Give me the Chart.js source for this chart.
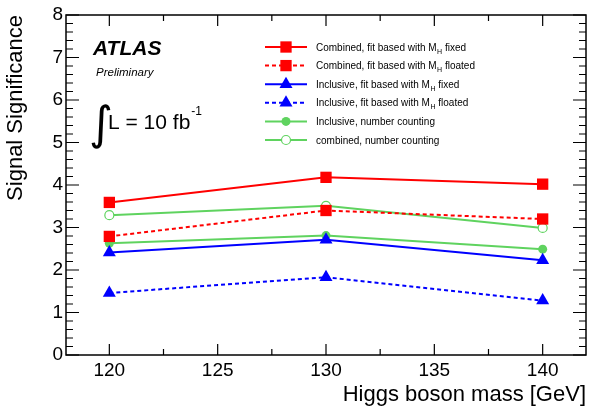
<!DOCTYPE html>
<html>
<head>
<meta charset="utf-8">
<script src="https://cdn.jsdelivr.net/npm/chart.js@4"></script>
<style>
html,body{margin:0;padding:0;background:#fff;}
canvas{display:block;}
</style>
</head>
<body>
<canvas id="c" width="589" height="406"></canvas>
<script>
// ---- data ----
const masses = [120, 130, 140];
const combinedFixed = [3.59, 4.18, 4.02];
const combinedFloated = [2.79, 3.40, 3.20];
const inclusiveFixed = [2.41, 2.71, 2.23];
const inclusiveFloated = [1.46, 1.83, 1.28];
const inclusiveCounting = [2.63, 2.81, 2.49];
const combinedCounting = [3.29, 3.51, 2.99];
const xTickValues = [120, 125, 130, 135, 140];
const yTickValues = [0, 1, 2, 3, 4, 5, 6, 7, 8];
const legendLabels = [
  ['Combined, fit based with M', 'H', ' fixed'],
  ['Combined, fit based with M', 'H', ' floated'],
  ['Inclusive, fit based with M', 'H', ' fixed'],
  ['Inclusive, fit based with M', 'H', ' floated'],
  ['Inclusive, number counting', '', ''],
  ['combined, number counting', '', '']
];

const RED = '#ff0000', BLUE = '#0000ff', GREEN = '#5fd35f';
const FONT = "'Liberation Sans', Arial, Helvetica, sans-serif";

function pts(vals){ return masses.map((m,i)=>({x:m, y:vals[i]})); }

const datasets = [
  {label:'cf', data:pts(combinedFixed), borderColor:RED, backgroundColor:RED, borderWidth:2, pointStyle:'rect', pointRadius:8, pointBorderWidth:0},
  {label:'cfl', data:pts(combinedFloated), borderColor:RED, backgroundColor:RED, borderWidth:2, borderDash:[4,3], pointStyle:'rect', pointRadius:8, pointBorderWidth:0},
  {label:'if', data:pts(inclusiveFixed), borderColor:BLUE, backgroundColor:BLUE, borderWidth:2, pointStyle:'triangle', pointRadius:7.5, pointBorderWidth:0},
  {label:'ifl', data:pts(inclusiveFloated), borderColor:BLUE, backgroundColor:BLUE, borderWidth:2, borderDash:[4,3], pointStyle:'triangle', pointRadius:7.5, pointBorderWidth:0},
  {label:'ic', data:pts(inclusiveCounting), borderColor:GREEN, backgroundColor:GREEN, borderWidth:2, pointStyle:'circle', pointRadius:4.5, pointBorderWidth:0},
  {label:'cc', data:pts(combinedCounting), borderColor:GREEN, backgroundColor:'#ffffff', borderWidth:2, pointStyle:'circle', pointRadius:4.5, pointBorderWidth:1.2, pointBorderColor:GREEN}
];

function drawMarker(ctx, ds, x, y){
  ctx.save();
  ctx.setLineDash([]);
  ctx.fillStyle = ds.backgroundColor;
  ctx.strokeStyle = ds.pointBorderColor || ds.borderColor;
  ctx.lineWidth = ds.pointBorderWidth;
  const r = ds.pointRadius;
  ctx.beginPath();
  if (ds.pointStyle === 'rect') {
    const s = Math.SQRT1_2 * r;
    ctx.rect(x - s, y - s, 2*s, 2*s);
  } else if (ds.pointStyle === 'triangle') {
    let rad = 0;
    ctx.moveTo(x + Math.sin(rad)*r, y - Math.cos(rad)*r);
    rad += 2*Math.PI/3;
    ctx.lineTo(x + Math.sin(rad)*r, y - Math.cos(rad)*r);
    rad += 2*Math.PI/3;
    ctx.lineTo(x + Math.sin(rad)*r, y - Math.cos(rad)*r);
    ctx.closePath();
  } else {
    ctx.arc(x, y, r, 0, Math.PI*2);
  }
  ctx.fill();
  if (ds.pointBorderWidth > 0) ctx.stroke();
  ctx.restore();
}

const framePlugin = {
  id: 'frame',
  afterDatasetsDraw(chart){
    const {ctx, chartArea:a, scales:{x, y}} = chart;
    ctx.save();
    ctx.strokeStyle = '#000';
    ctx.lineWidth = 1.5;
    ctx.setLineDash([]);
    ctx.strokeRect(a.left, a.top, a.right - a.left, a.bottom - a.top);
    ctx.lineWidth = 1.2;
    ctx.beginPath();
    // y ticks
    for (let v = y.min; v <= y.max + 1e-9; v += 0.2) {
      const major = Math.abs(v - Math.round(v)) < 1e-6;
      const len = major ? 13 : 7;
      const py = y.getPixelForValue(v);
      ctx.moveTo(a.left, py); ctx.lineTo(a.left + len, py);
      ctx.moveTo(a.right, py); ctx.lineTo(a.right - len, py);
    }
    // x ticks
    for (let v = 117.5; v <= x.max; v += 2.5) {
      if (v < x.min) continue;
      const major = Math.abs(v/5 - Math.round(v/5)) < 1e-6;
      const len = major ? 11 : 6;
      const px = x.getPixelForValue(v);
      ctx.moveTo(px, a.bottom); ctx.lineTo(px, a.bottom - len);
      ctx.moveTo(px, a.top); ctx.lineTo(px, a.top + len);
    }
    ctx.stroke();
    ctx.restore();
  }
};

const annotPlugin = {
  id: 'annot',
  afterDraw(chart){
    const ctx = chart.ctx;
    ctx.save();
    ctx.fillStyle = '#000';
    ctx.textBaseline = 'alphabetic';
    ctx.textAlign = 'left';
    ctx.font = "italic bold 21px " + FONT;
    ctx.fillText('ATLAS', 93, 55);
    ctx.font = "italic 11.5px " + FONT;
    ctx.fillText('Preliminary', 96, 76);
    ctx.font = "46px 'DejaVu Sans', " + FONT;
    ctx.fillText('\u222B', 89, 139);
    ctx.font = "21px " + FONT;
    ctx.fillText('L = 10 fb', 108, 129);
    const w = ctx.measureText('L = 10 fb').width;
    ctx.font = "12px " + FONT;
    ctx.fillText('-1', 108 + w + 1, 115);

    // legend
    const rowY0 = 47, rowStep = 18.6;
    chart.data.datasets.forEach((ds, i) => {
      const yy = rowY0 + i*rowStep;
      ctx.save();
      ctx.strokeStyle = ds.borderColor;
      ctx.lineWidth = ds.borderWidth;
      ctx.setLineDash(ds.borderDash || []);
      ctx.beginPath();
      ctx.moveTo(265, yy); ctx.lineTo(307, yy);
      ctx.stroke();
      ctx.restore();
      drawMarker(ctx, ds, 286, yy);
      const [t1, sub, t2] = legendLabels[i];
      ctx.fillStyle = '#000';
      ctx.font = "10px " + FONT;
      let tx = 316;
      ctx.fillText(t1, tx, yy + 3.5);
      tx += ctx.measureText(t1).width;
      if (sub) {
        ctx.font = "7px " + FONT;
        ctx.fillText(sub, tx + 0.5, yy + 6.5);
        tx += ctx.measureText(sub).width + 0.5;
        ctx.font = "10px " + FONT;
        ctx.fillText(t2, tx, yy + 3.5);
      }
    });
    ctx.restore();
  }
};

new Chart(document.getElementById('c'), {
  type: 'line',
  data: { datasets },
  plugins: [framePlugin, annotPlugin],
  options: {
    responsive: false,
    animation: false,
    devicePixelRatio: 1,
    layout: { autoPadding: false, padding: { top: 15, right: 3, left: 0, bottom: 0 } },
    plugins: { legend: { display: false }, tooltip: { enabled: false } },
    elements: { line: { tension: 0, fill: false } },
    scales: {
      x: {
        type: 'linear', min: 118, max: 142,
        afterBuildTicks(s){ s.ticks = xTickValues.map(v => ({value: v})); },
        afterFit(s){ s.height = 51; },
        grid: { display: false, drawTicks: false },
        border: { display: false },
        ticks: { color: '#000', font: { family: FONT, size: 19 }, padding: 4, maxRotation: 0, autoSkip: false },
        title: { display: true, text: 'Higgs boson mass [GeV]', align: 'end', color: '#000',
                 font: { family: FONT, size: 22, lineHeight: 1.0 }, padding: 0 }
      },
      y: {
        type: 'linear', min: 0, max: 8,
        afterBuildTicks(s){ s.ticks = yTickValues.map(v => ({value: v})); },
        afterFit(s){ s.width = 66; },
        grid: { display: false, drawTicks: false },
        border: { display: false },
        ticks: { color: '#000', font: { family: FONT, size: 19 }, padding: 3 },
        title: { display: true, text: 'Signal Significance', align: 'end', color: '#000',
                 font: { family: FONT, size: 22, lineHeight: 1.2 }, padding: { top: 3, bottom: 0 } }
      }
    }
  }
});
</script>
</body>
</html>
